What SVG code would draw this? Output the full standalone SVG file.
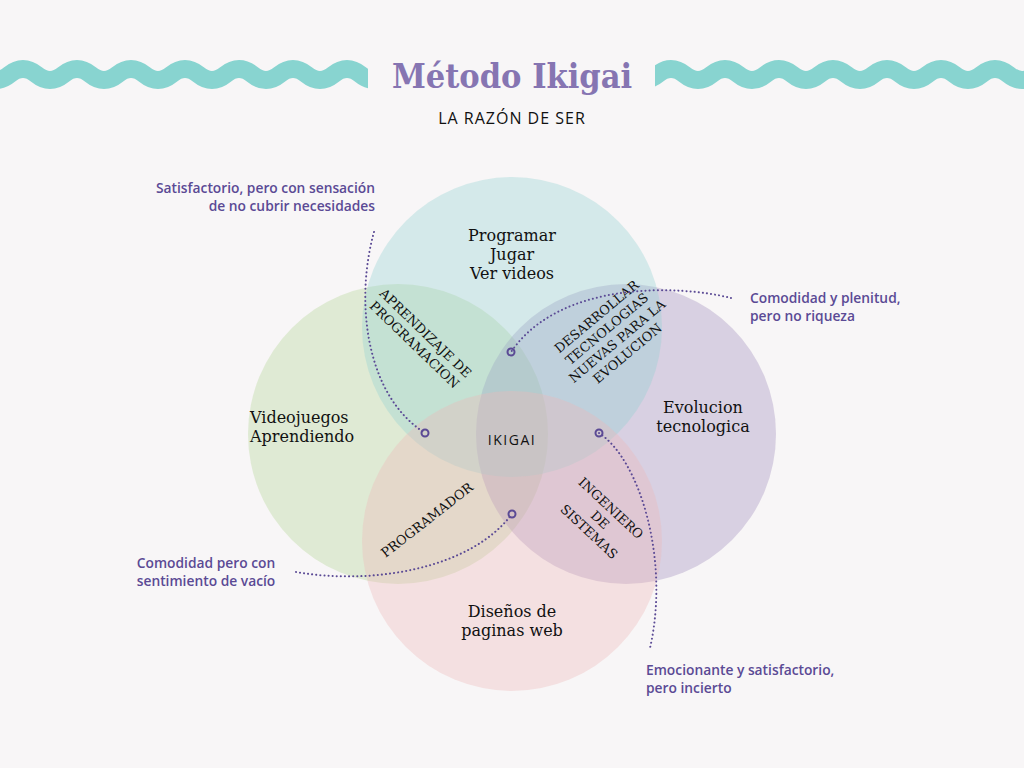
<svg xmlns="http://www.w3.org/2000/svg" width="1024" height="768" viewBox="0 0 1024 768">
<defs>
<style>
.bg{fill:#f8f6f7}
.wave{fill:none;stroke:#88d4d0;stroke-width:18}
.title{font-family:"DejaVu Serif Condensed","DejaVu Serif",serif;font-weight:bold;font-stretch:condensed;font-size:34px;fill:#8675b2;text-anchor:middle}
.sub{font-family:"Open Sans","Liberation Sans",sans-serif;font-size:16px;letter-spacing:1px;fill:#111;text-anchor:middle}
.circ{opacity:0.35}
.lbl{font-family:"DejaVu Serif",serif;font-size:16px;fill:#111}
.mid{text-anchor:middle}
.rot{font-family:"DejaVu Serif",serif;font-size:13px;fill:#111;text-anchor:middle}
.ik{font-family:"Open Sans","Liberation Sans",sans-serif;font-size:14px;letter-spacing:1.5px;fill:#111;text-anchor:middle}
.note{font-family:"Open Sans","Noto Sans",sans-serif;font-weight:600;font-size:13.8px;fill:#5b4a95}
.dot{fill:none;stroke:#5b4a95;stroke-width:2;stroke-linecap:round;stroke-dasharray:0.1 4}
.end{fill:none;stroke:#5b4a95;stroke-width:2}
</style>
<clipPath id="cl"><rect x="0" y="40" width="368" height="70"/></clipPath>
<clipPath id="cr"><rect x="655" y="40" width="369" height="70"/></clipPath>
<path id="wv" d="M-17.5,74.5 q13.5,11 27,0 t27,0 t27,0 t27,0 t27,0 t27,0 t27,0 t27,0 t27,0 t27,0 t27,0 t27,0 t27,0 t27,0 t27,0 t27,0 t27,0 t27,0 t27,0 t27,0 t27,0 t27,0 t27,0 t27,0 t27,0 t27,0 t27,0 t27,0 t27,0 t27,0 t27,0 t27,0 t27,0 t27,0 t27,0 t27,0 t27,0 t27,0 t27,0 t27,0 t27,0"/>
</defs>
<rect class="bg" x="0" y="0" width="1024" height="768"/>

<g id="header">
<use href="#wv" class="wave" clip-path="url(#cl)"/>
<use href="#wv" class="wave" clip-path="url(#cr)"/>
<text class="title" x="512" y="88">Método Ikigai</text>
<text class="sub" x="512" y="124">LA RAZÓN DE SER</text>
</g>

<g id="circles">
<circle id="c-left" class="circ" cx="398" cy="434" r="150" fill="#b1d493"/>
<circle id="c-right" class="circ" cx="626" cy="434" r="150" fill="#9d89bb"/>
<circle id="c-top" class="circ" cx="512" cy="327" r="150" fill="#91d1d2"/>
<circle id="c-bottom" class="circ" cx="512" cy="541" r="150" fill="#edb7b8"/>
</g>

<g id="node-top"><text class="lbl mid" x="512" y="241">Programar<tspan x="512" dy="19">Jugar</tspan><tspan x="512" dy="19">Ver videos</tspan></text></g>
<g id="node-left"><text class="lbl" x="250" y="423">Videojuegos<tspan x="250" dy="19">Aprendiendo</tspan></text></g>
<g id="node-right"><text class="lbl mid" x="703" y="413">Evolucion<tspan x="703" dy="19">tecnologica</tspan></text></g>
<g id="node-bottom"><text class="lbl mid" x="512" y="617">Diseños de<tspan x="512" dy="19">paginas web</tspan></text></g>
<g id="node-ikigai"><text class="ik" x="512" y="445">IKIGAI</text></g>

<g id="overlap-tl" transform="translate(420,339) rotate(44)"><text class="rot" x="0" y="-3.5">APRENDIZAJE DE<tspan x="0" dy="16">PROGRAMACION</tspan></text></g>
<g id="overlap-tr" transform="translate(612,335) rotate(-40)"><text class="rot" x="0" y="-19.5">DESARROLLAR<tspan x="0" dy="16">TECNOLOGIAS</tspan><tspan x="0" dy="16">NUEVAS PARA LA</tspan><tspan x="0" dy="16">EVOLUCION</tspan></text></g>
<g id="overlap-bl" transform="translate(427,520) rotate(-38)"><text class="rot" x="0" y="4.5">PROGRAMADOR</text></g>
<g id="overlap-br" transform="translate(600,520) rotate(43)"><text class="rot" x="0" y="-11.5">INGENIERO<tspan x="0" dy="16">DE</tspan><tspan x="0" dy="16">SISTEMAS</tspan></text></g>

<g id="connectors">
<path class="dot" d="M374,232 C355,300 365,395 425,433"/>
<path class="dot" d="M731,298 C680,285 560,280 511,352"/>
<path class="dot" d="M296,572 C370,585 470,570 512,514"/>
<path class="dot" d="M599,433 C640,460 670,560 650,648"/>
<circle class="end" cx="425" cy="433" r="3.5"/>
<circle class="end" cx="511" cy="352" r="3.5"/>
<circle class="end" cx="512" cy="514" r="3.5"/>
<circle class="end" cx="599" cy="433" r="3.5"/>
</g>

<g id="note-tl"><text class="note" text-anchor="end" x="375" y="193">Satisfactorio, pero con sensación<tspan x="375" dy="18">de no cubrir necesidades</tspan></text></g>
<g id="note-tr"><text class="note" x="750" y="303">Comodidad y plenitud,<tspan x="750" dy="18">pero no riqueza</tspan></text></g>
<g id="note-bl"><text class="note" text-anchor="middle" x="206" y="568">Comodidad pero con<tspan x="206" dy="18">sentimiento de vacío</tspan></text></g>
<g id="note-br"><text class="note" x="646" y="675">Emocionante y satisfactorio,<tspan x="646" dy="18">pero incierto</tspan></text></g>
</svg>
